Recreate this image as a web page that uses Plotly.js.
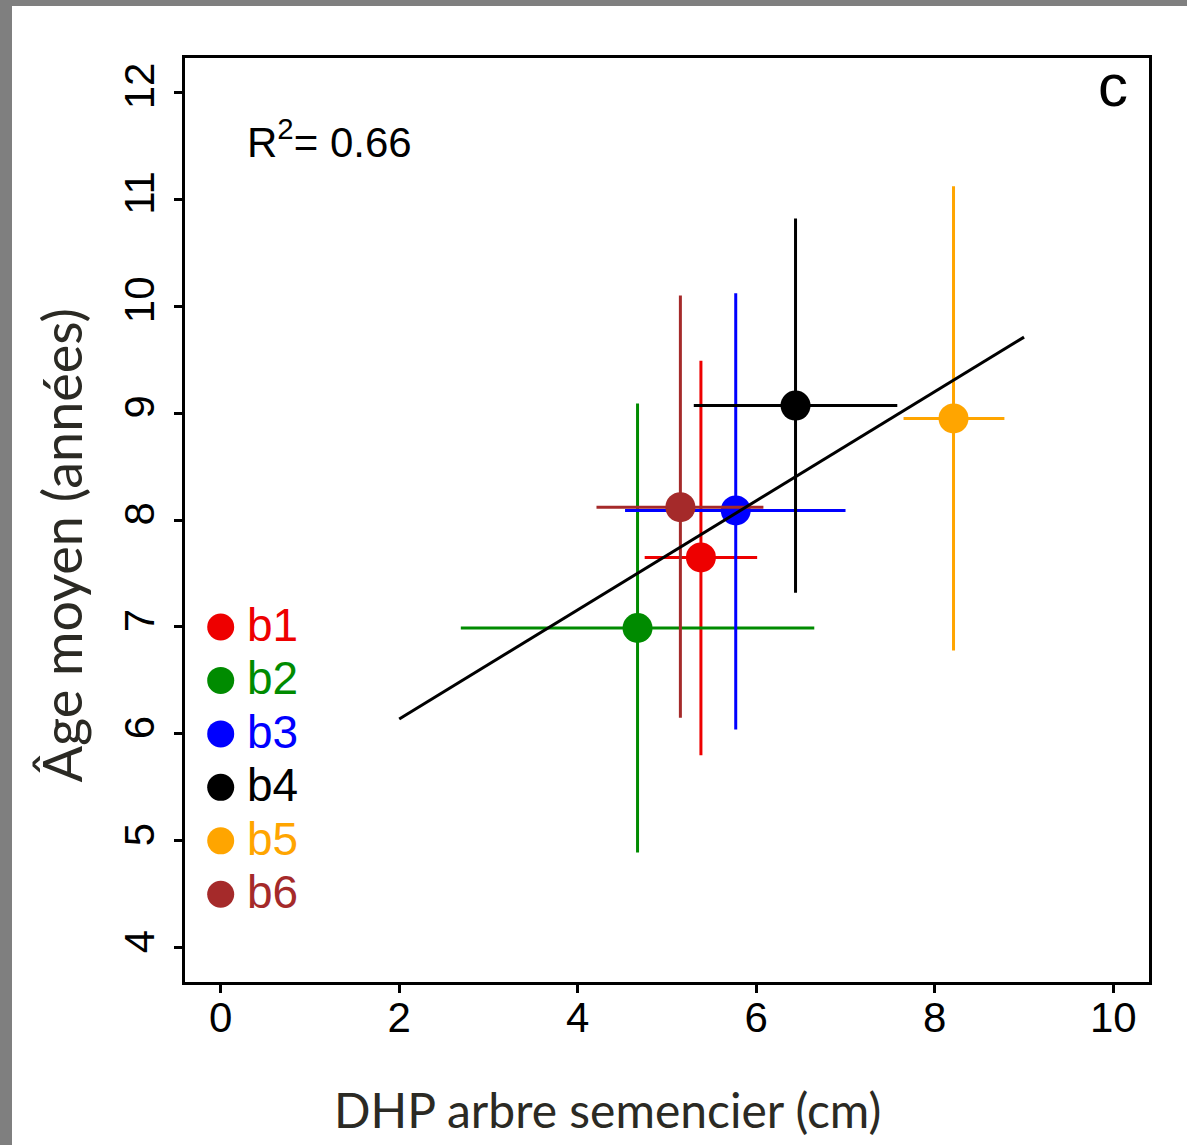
<!DOCTYPE html>
<html>
<head>
<meta charset="utf-8">
<script src="https://cdn.plot.ly/plotly-3.0.1.min.js"></script>
<style>
  html, body { margin: 0; padding: 0; background: #7f7f7f; width: 1187px; height: 1145px; overflow: hidden; }
  #chart { position: absolute; left: 12px; top: 6px; width: 1175px; height: 1139px; background: #fff; }
</style>
</head>
<body>
<div id="chart"></div>
<script>
// ---- data ----
const groups   = ['b1', 'b2', 'b3', 'b4', 'b5', 'b6'];
const colors   = ['#ee0000', '#008b00', '#0000ff', '#000000', '#ffa500', '#a52a2a'];
const dhp      = [5.38, 4.67, 5.77, 6.44, 8.21, 5.15];
const dhpLow   = [4.75, 2.69, 4.53, 5.30, 7.65, 4.21];
const dhpHigh  = [6.01, 6.65, 7.00, 7.58, 8.78, 6.08];
const age      = [7.65, 6.99, 8.09, 9.07, 8.95, 8.12];
const ageLow   = [5.80, 4.89, 6.04, 7.32, 6.78, 6.15];
const ageHigh  = [9.49, 9.09, 10.12, 10.82, 11.12, 10.10];
const fitX     = [2, 9];
const fitY     = [6.14, 9.71];
const xTicks   = [0, 2, 4, 6, 8, 10];
const yTicks   = [4, 5, 6, 7, 8, 9, 10, 11, 12];
const r2Label  = 'R<sup>2</sup>= 0.66';
const panelLabel = 'c';
const xTitle   = 'DHP arbre semencier (cm)';
const yTitle   = 'Âge moyen (années)';

// key placement (layout)
const keyX = 0, keyTop = 7, keyStep = 0.5;
const xRange = [-0.4, 10.4], yRange = [3.68, 12.32];

const titleFont = 'Lato, "Noto Sans", sans-serif';
const tickFont = '"Liberation Sans", Arial, Helvetica, sans-serif';
const titleColor = '#2b2a24';

const keyY = groups.map((_, i) => keyTop - i * keyStep);

const traces = groups.map((g, i) => ({
  type: 'scatter',
  mode: 'markers',
  name: g,
  x: [dhp[i]],
  y: [age[i]],
  marker: { color: colors[i], size: 30, line: { width: 0 } },
  error_x: { type: 'data', symmetric: false, array: [dhpHigh[i] - dhp[i]], arrayminus: [dhp[i] - dhpLow[i]], color: colors[i], thickness: 3, width: 0 },
  error_y: { type: 'data', symmetric: false, array: [ageHigh[i] - age[i]], arrayminus: [age[i] - ageLow[i]], color: colors[i], thickness: 3, width: 0 },
  showlegend: false,
  hoverinfo: 'x+y+name'
}));

traces.push({
  type: 'scatter', mode: 'lines', x: fitX, y: fitY,
  line: { color: '#000', width: 3 }, showlegend: false, hoverinfo: 'skip'
});

// key markers
traces.push({
  type: 'scatter', mode: 'markers',
  x: groups.map(() => keyX),
  y: keyY,
  marker: { color: colors, size: 27, line: { width: 0 } },
  showlegend: false, hoverinfo: 'skip', cliponaxis: false
});

// empty trace binding the label-only overlay axes
traces.push({ type: 'scatter', mode: 'markers', x: [], y: [], xaxis: 'x2', yaxis: 'y2', showlegend: false, hoverinfo: 'skip' });

const frameAxis = {
  showgrid: false, zeroline: false,
  showline: true, mirror: true, linecolor: '#000', linewidth: 3,
  ticks: 'outside', ticklen: 8, tickwidth: 3, tickcolor: '#000',
  showticklabels: false
};
const labelAxis = {
  showgrid: false, zeroline: false, showline: false, ticks: '',
  tickfont: { family: tickFont, size: 42, color: '#000' }
};

const keyAnnotations = groups.map((g, i) => ({
  xref: 'x', yref: 'y', x: keyX, y: keyY[i], xanchor: 'left', yanchor: 'middle', xshift: 24, yshift: 2,
  text: g, showarrow: false, font: { family: tickFont, size: 46, color: colors[i] }
}));

const layout = {
  width: 1175, height: 1139,
  margin: { l: 173, r: 38, t: 52, b: 163 },
  paper_bgcolor: '#fff', plot_bgcolor: '#fff',
  showlegend: false,
  xaxis: Object.assign({}, frameAxis, { range: xRange, tickmode: 'array', tickvals: xTicks }),
  yaxis: Object.assign({}, frameAxis, { range: yRange, tickmode: 'array', tickvals: yTicks }),
  xaxis2: Object.assign({}, labelAxis, { range: xRange, overlaying: 'x', side: 'bottom', anchor: 'y2', tickmode: 'array', tickvals: xTicks, ticktext: xTicks.map(String), ticklabelstandoff: 7 }),
  yaxis2: Object.assign({}, labelAxis, { range: yRange, overlaying: 'y', side: 'left', anchor: 'x2', tickmode: 'array', tickvals: yTicks, ticktext: yTicks.map(String), tickangle: -90, ticklabelstandoff: 22 }),
  annotations: [
    { xref: 'x', yref: 'y', x: 0.27, y: 11.56, xanchor: 'left', yanchor: 'middle', text: r2Label, showarrow: false,
      font: { family: tickFont, size: 42, color: '#000' } },
    { xref: 'x', yref: 'y', x: 10, y: 12, xanchor: 'center', yanchor: 'middle', yshift: 7, text: panelLabel, showarrow: false,
      font: { family: tickFont, size: 60, color: '#000' } },
    { xref: 'paper', yref: 'paper', x: 0.438, y: -0.138, xanchor: 'center', yanchor: 'middle', text: xTitle, showarrow: false,
      font: { family: titleFont, size: 48, color: titleColor } },
    { xref: 'paper', yref: 'paper', x: -0.128, y: 0.472, xanchor: 'center', yanchor: 'middle', text: yTitle, showarrow: false, textangle: -90,
      font: { family: titleFont, size: 54, color: titleColor } }
  ].concat(keyAnnotations)
};

Plotly.newPlot('chart', traces, layout, { displayModeBar: false, staticPlot: true });
</script>
</body>
</html>
